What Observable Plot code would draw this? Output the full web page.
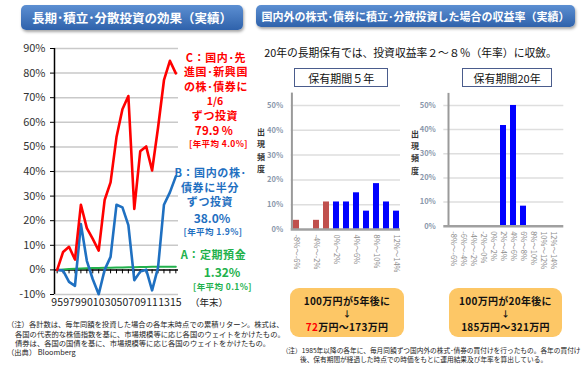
<!DOCTYPE html>
<html><head><meta charset="utf-8">
<script src="https://cdn.jsdelivr.net/npm/d3@7"></script>
<script src="https://cdn.jsdelivr.net/npm/@observablehq/plot@0.6"></script>
<style>
html,body{margin:0;padding:0;background:#fff;}
#root{position:relative;width:588px;height:382px;overflow:hidden;background:#fff;font-family:"Noto Sans CJK JP","Noto Sans",sans-serif;}
.abs{position:absolute;white-space:nowrap;line-height:1;}
.bar{position:absolute;border-radius:5px;background:linear-gradient(#5c8fd2,#2f62ab);box-shadow:1px 2px 3px rgba(0,0,0,0.35);color:#fff;font-weight:bold;display:flex;align-items:center;justify-content:center;}
.pbox{position:absolute;border:1px solid #4a5c8c;background:#fff;display:flex;align-items:center;justify-content:center;font-size:11px;color:#111;box-sizing:border-box;}
.ybox{position:absolute;background:#fdc766;border-radius:9px;}
.plot{position:absolute;}
</style></head>
<body><div id="root"></div>
<script>
// ---------- data ----------
const years = [1995,1996,1997,1998,1999,2000,2001,2002,2003,2004,2005,2006,2007,2008,2009,2010,2011,2012,2013,2014,2015];
const depositA = [0,0.2,0.35,0.5,0.6,0.7,0.75,0.8,0.85,0.9,0.95,1.0,1.05,1.1,1.15,1.2,1.24,1.27,1.29,1.31,1.32];
const domesticB = [0,-0.3,-4.9,-6.5,18.6,3.7,-3.8,-9.9,0,5.3,26.5,25.4,18.2,-4.2,-0.7,0.1,-8.3,0.9,26.5,31.5,38.0];
const globalC = [0,7.3,9.4,4.2,26.5,17,12.6,7.8,28.4,35.6,54,65.3,70.7,24.8,48.2,50.2,40.4,57.8,77.1,85,79.9];
const lineYTicks = [-10,0,10,20,30,40,50,60,70,80,90];
const lineXTicks = [1995,1997,1999,2001,2003,2005,2007,2009,2011,2013,2015];

const bins = ["-8%～-6%","-6%～-4%","-4%～-2%","-2%～0%","0%～2%","2%～4%","4%～6%","6%～8%","8%～10%","10%～12%","12%～14%"];
const freq5 = [3.7,0,3.7,11.1,11.1,11.1,14.8,7.4,18.5,11.1,7.4];
const freq20 = [0,0,0,0,0,41.7,50,8.3,0,0,0];
const histYTicks = [0,10,20,30,40,50];
const hist5Labels = ["-8%～-6%","-4%～-2%","0%～2%","4%～6%","8%～10%","12%～14%"];

// ---------- helpers ----------
const root = document.getElementById("root");
const FONT = '"Noto Sans CJK JP","Noto Sans",sans-serif';
function txt(t, x, y, o = {}) {
  const d = document.createElement("div");
  d.className = "abs";
  d.textContent = t;
  d.style.left = x + "px"; d.style.top = y + "px";
  const ax = o.anchor === "start" ? "0" : o.anchor === "end" ? "-100%" : "-50%";
  d.style.transform = `translate(${ax},-50%)`;
  d.style.fontSize = (o.size || 11) + "px";
  d.style.color = o.color || "#111";
  d.style.fontWeight = o.bold ? "bold" : "normal";
  if (o.ls) d.style.letterSpacing = o.ls + "px";
  if (o.html) d.innerHTML = o.html;
  root.appendChild(d);
  return d;
}
function box(cls, x, y, w, h, content, extra = {}) {
  const d = document.createElement("div");
  d.className = cls;
  Object.assign(d.style, {left: x + "px", top: y + "px", width: w + "px", height: h + "px"}, extra);
  if (content) d.textContent = content;
  root.appendChild(d);
  return d;
}
function place(svg, x, y) {
  const w = document.createElement("div");
  w.className = "plot"; w.style.left = x + "px"; w.style.top = y + "px";
  w.appendChild(svg); root.appendChild(w);
}

// ---------- title bars ----------
box("bar", 21, 4.5, 222, 25, "長期･積立･分散投資の効果（実績）", {fontSize: "12.5px"});
box("bar", 256, 5, 319, 22, "国内外の株式･債券に積立･分散投資した場合の収益率（実績）", {fontSize: "11px"});

// ---------- line chart ----------
const RED = "#ff0000", BLUE = "#1f70c1", GREEN = "#22b14c";
const lineRows = years.map((y, i) => ({year: y, A: depositA[i], B: domesticB[i], C: globalC[i]}));
const xDom = [1994.55, 2015.45];
const lineChart = Plot.plot({
  width: 250, height: 315,
  marginLeft: 54, marginRight: 72, marginTop: 48, marginBottom: 21,
  x: {domain: xDom},
  y: {domain: [-10, 90]},
  style: {background: "transparent", fontFamily: FONT, overflow: "visible"},
  marks: [
    Plot.gridY(lineYTicks.filter(d => d !== 0), {stroke: "#c9c9c9", strokeOpacity: 1, strokeWidth: 1.5}),
    Plot.axisY(lineYTicks, {tickFormat: d => d + "%", fontSize: 11, fill: "#333", stroke: "#000", tickSize: 4, tickPadding: 5, label: null}),
    Plot.ruleX([xDom[0]], {stroke: "#000", strokeWidth: 1.5}),
    Plot.axisX(lineXTicks, {tickFormat: d => String(d % 100).padStart(2, "0"), tickSize: 0, tickPadding: 4, fontSize: 10.5, fill: "#222", label: null}),
    Plot.ruleX(years, {x: d => d, y1: 0, y2: -1.6, stroke: "#000", strokeWidth: 1}),
    Plot.ruleY([0], {stroke: "#000", strokeWidth: 1.5}),
    Plot.line(lineRows, {x: "year", y: "A", stroke: GREEN, strokeWidth: 2}),
    Plot.line(lineRows, {x: "year", y: "B", stroke: BLUE, strokeWidth: 2.6}),
    Plot.line(lineRows, {x: "year", y: "C", stroke: RED, strokeWidth: 2.6})
  ]
});
place(lineChart, 0, 0);
txt("（年末）", 209, 303, {size: 9.5, color: "#222"});

// annotations C
txt("C：国内･先", 216, 56.5, {size: 11, bold: true, color: RED, ls: 0.6});
txt("進国･新興国", 216, 71, {size: 11, bold: true, color: RED, ls: 0.6});
txt("の株･債券に", 216, 85.5, {size: 11, bold: true, color: RED, ls: 0.6});
txt("1/6", 215, 100.5, {size: 10.5, bold: true, color: RED});
txt("ずつ投資", 215, 114.5, {size: 11, bold: true, color: RED, ls: 0.6});
txt("79.9 %", 214, 130.5, {size: 11.5, bold: true, color: RED});
txt("[年平均 4.0%]", 218.5, 143.3, {size: 8.5, bold: true, color: RED, ls: 0.4});
// annotations B
txt("B：国内の株･", 210.5, 172, {size: 11, bold: true, color: BLUE, ls: 0.6});
txt("債券に半分", 210, 186.5, {size: 11, bold: true, color: BLUE, ls: 0.6});
txt("ずつ投資", 210, 201, {size: 11, bold: true, color: BLUE, ls: 0.6});
txt("38.0%", 212, 217.6, {size: 12, bold: true, color: BLUE});
txt("[年平均 1.9%]", 213, 231, {size: 8.5, bold: true, color: BLUE, ls: 0.4});
// annotations A
txt("A：定期預金", 213.5, 254, {size: 11, bold: true, color: GREEN, ls: 0.6});
txt("1.32%", 222, 271.8, {size: 12, bold: true, color: GREEN});
txt("[年平均 0.1%]", 222.5, 285.5, {size: 8.5, bold: true, color: GREEN, ls: 0.4});

// left notes
txt("（注）各計数は、毎年同額を投資した場合の各年末時点での累積リターン。株式は、", 7, 325, {anchor: "start", size: 7.3, color: "#222"});
txt("各国の代表的な株価指数を基に、市場規模等に応じ各国のウェイトをかけたもの。", 15, 334.5, {anchor: "start", size: 7.3, color: "#222"});
txt("債券は、各国の国債を基に、市場規模等に応じ各国のウェイトをかけたもの。", 15, 343.7, {anchor: "start", size: 7.3, color: "#222"});
txt("（出典）  Bloomberg", 7, 353, {anchor: "start", size: 7.3, color: "#222"});

// ---------- right panel ----------
txt("20年の長期保有では、投資収益率２～８％（年率）に収斂。", 410.5, 52, {size: 10.8, color: "#111"});
box("pbox", 294.3, 68.3, 94, 18.5, "保有期間５年");
box("pbox", 462.3, 68.3, 89.5, 18.5, "保有期間20年");

const HRED = "#c0504d", HBLUE = "#0000ff";
function hist(freqs, opts) {
  const rows = bins.map((b, i) => ({bin: b, v: freqs[i]}));
  return Plot.plot({
    width: opts.width, height: 200,
    marginLeft: opts.ml, marginRight: opts.mr, marginTop: opts.mt, marginBottom: opts.mb,
    x: {domain: bins, paddingInner: opts.pi, paddingOuter: opts.po},
    y: {domain: [0, 55]},
    style: {background: "transparent", fontFamily: FONT, overflow: "visible"},
    marks: [
      Plot.gridY(histYTicks.filter(d => d > 0), {stroke: "#dedede", strokeOpacity: 1, strokeWidth: 1.5}),
      Plot.axisY(histYTicks, {tickFormat: d => d + "%", fontSize: 7.5, fontWeight: "bold", fill: "#8a97ab", tickSize: 0, tickPadding: 8, label: null}),
      Plot.axisX(opts.labels, {tickRotate: 90, tickSize: 0, tickPadding: 5, fontSize: 7.5, fill: "#8c8c8c", label: null}),
      Plot.barY(rows, {x: "bin", y: "v", fill: d => parseFloat(d.bin) < 0 ? HRED : HBLUE}),
      Plot.ruleX([bins[0]], {dx: -(opts.off), stroke: "#9a9a9a", strokeWidth: 2}),
      Plot.ruleY([0], {stroke: "#a0a0a0", strokeWidth: 2.5})
    ]
  });
}
const h5 = hist(freq5, {width: 160, ml: 40.7, mr: 10, mt: 12.6, mb: 51, pi: 0.43, po: 0.175, labels: hist5Labels, off: 4.6});
place(h5, 250, 80);
const h20 = hist(freq20, {width: 170, ml: 33.3, mr: 16.7, mt: 12.9, mb: 54.3, pi: 0.36, po: 0.136, labels: bins, off: 5});
place(h20, 410, 80);

// vertical axis titles
["出","現","頻","度"].forEach((c, i) => {
  txt(c, 261, 132 + i * 12.4, {size: 8, bold: true, color: "#333"});
  txt(c, 415, 133.5 + i * 12.4, {size: 8, bold: true, color: "#333"});
});

// yellow boxes
box("ybox", 290, 288.3, 114, 48.4);
box("ybox", 449.3, 288.3, 112.4, 48.4);
txt("100万円が5年後に", 347, 300.5, {size: 10, bold: true, color: "#111", ls: 0.3});
txt("↓", 347, 313.3, {size: 8.5, bold: true, color: "#111"});
txt("", 347, 326.5, {size: 10, bold: true, color: "#111", ls: 0.3, html: '<span style="color:#ff0000">72</span>万円～173万円'});
txt("100万円が20年後に", 505.5, 300.5, {size: 10, bold: true, color: "#111", ls: 0.3});
txt("↓", 505.5, 313.3, {size: 8.5, bold: true, color: "#111"});
txt("185万円～321万円", 505.5, 326.5, {size: 10, bold: true, color: "#111", ls: 0.3});

// right notes
txt("（注）1985年以降の各年に、毎月同額ずつ国内外の株式･債券の買付けを行ったもの。各年の買付け", 281.7, 350, {anchor: "start", size: 6.7, color: "#222"});
txt("後、保有期間が経過した時点での時価をもとに運用結果及び年率を算出している。", 300, 359.3, {anchor: "start", size: 6.7, color: "#222"});
</script></body></html>
